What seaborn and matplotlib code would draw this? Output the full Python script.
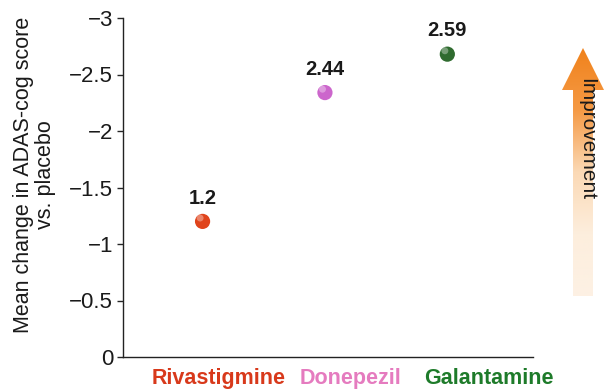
import numpy as np
import pandas as pd
import seaborn as sns
import matplotlib.pyplot as plt
from matplotlib.patches import Polygon
from matplotlib.colors import LinearSegmentedColormap

# data
drugs = ['Rivastigmine', 'Donepezil', 'Galantamine']
mean_change = [-1.2, -2.34, -2.68]
value_labels = ['1.2', '2.44', '2.59']
point_colors = ['#e0441c', '#cc66cc', '#2f6b2f']
label_colors = ['#d8391b', '#e57bbf', '#1e7b2a']
yticks = [0, -0.5, -1, -1.5, -2, -2.5, -3]
ytick_labels = ['0', '\u22120.5', '\u22121', '\u22121.5', '\u22122', '\u22122.5', '\u22123']

sns.set_style('ticks')
plt.rcParams['font.family'] = ['Liberation Sans', 'DejaVu Sans']

df = pd.DataFrame({'drug': drugs, 'change': mean_change})
df['x'] = np.arange(len(drugs))

fig = plt.figure(figsize=(6.04, 3.89), dpi=100)
ax = fig.add_axes([123 / 604, 32 / 389, 410 / 604, 339 / 389])

sns.scatterplot(data=df, x='x', y='change', hue='drug', palette=point_colors,
                s=120, edgecolor='none', legend=False, ax=ax, zorder=3)
# little highlight to give the spheres some shine
ax.scatter(df['x'] - 0.02, df['change'] - 0.03, s=25, color='white', alpha=0.35,
           edgecolor='none', zorder=4)

for xi, yi, lab in zip(df['x'], df['change'], value_labels):
    ax.annotate(lab, (xi, yi), xytext=(0, 10), textcoords='offset points',
                ha='center', va='bottom', fontsize=14.5, fontweight='bold', color='#1a1a1a')

ax.set_ylim(0, -3)
ax.set_xlim(-0.65, 2.7)
ax.set_yticks(yticks)
ax.set_yticklabels(ytick_labels, fontsize=16, color='#1a1a1a')
ax.set_xticks([])
# category names sit a bit right of the points in the original
xt = ax.get_xaxis_transform()
for xi, name, c, dx in zip(df['x'], drugs, label_colors, [16, 26, 42]):
    ax.annotate(name, (xi, 0), xycoords=xt, xytext=(dx, -11), textcoords='offset pixels',
                ha='center', va='top', fontsize=15.5, fontweight='bold', color=c,
                annotation_clip=False)
ax.tick_params(axis='y', length=4, width=1, pad=3)
ax.set_xlabel('')
ax.set_ylabel('Mean change in ADAS-cog score\nvs. placebo', fontsize=15.5,
              linespacing=1.05, color='#1a1a1a')
ax.yaxis.set_label_coords(-0.163, 0.537)
sns.despine(ax=ax)
for s in ['left', 'bottom']:
    ax.spines[s].set_linewidth(1)
    ax.spines[s].set_color('#222222')

# gradient "Improvement" arrow
aax = fig.add_axes([562 / 604, (389 - 296) / 389, 42 / 604, 248 / 389])
aax.set_xlim(0, 42)
aax.set_ylim(248, 0)
aax.axis('off')
cmap = LinearSegmentedColormap.from_list('imp', ['#f0821c', '#f59a45', '#fbd9b5', '#fdeedd', '#fdf1e4'])
grad = np.linspace(0, 1, 256).reshape(-1, 1)
im = aax.imshow(grad, cmap=cmap, extent=[0, 42, 248, 0], aspect='auto')
arrow = Polygon([(11, 248), (11, 42), (0, 42), (21, 0), (42, 42), (31, 42), (31, 248)],
                closed=True, transform=aax.transData, facecolor='none', edgecolor='none')
aax.add_patch(arrow)
im.set_clip_path(arrow)
aax.text(25, 30, 'Improvement', rotation=-90, ha='center', va='top', fontsize=15,
         color='#1a1a1a')

fig.savefig('out.png', dpi=100)
